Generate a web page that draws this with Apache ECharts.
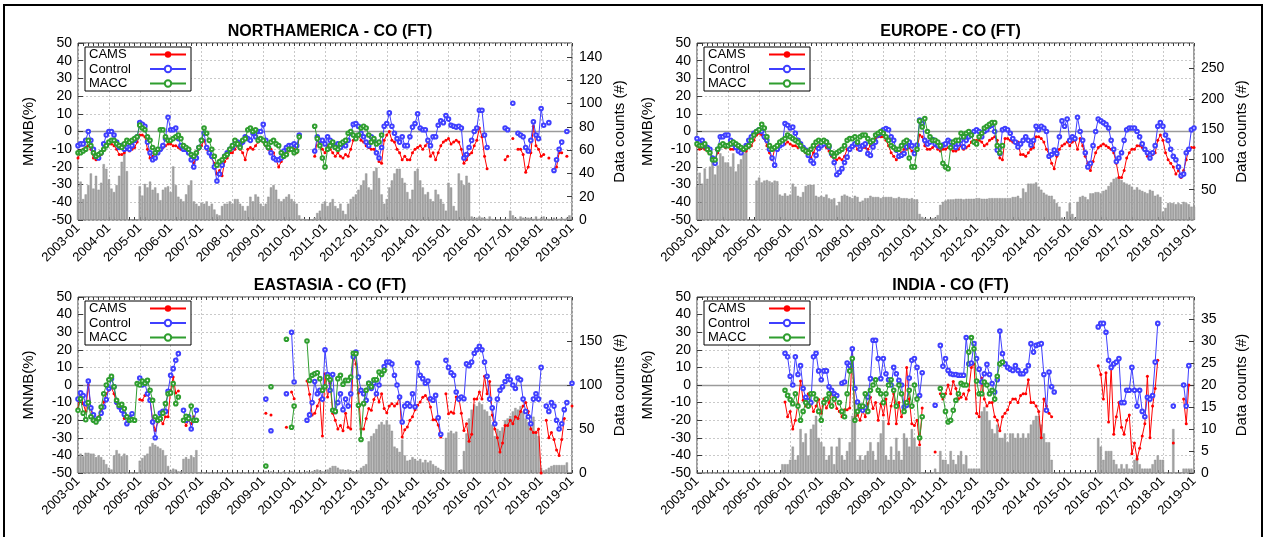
<!DOCTYPE html>
<html>
<head>
<meta charset="utf-8">
<script src="https://cdn.jsdelivr.net/npm/echarts@6/dist/echarts.min.js"></script>
<style>
html, body { margin: 0; padding: 0; background: #fff; }
#chart { width: 1266px; height: 537px; }
</style>
</head>
<body>
<div id="chart"></div>
<script>
const _ = null;
const FONT = '"Liberation Sans", Arial, Helvetica, sans-serif';

// Monthly categories, 2003-01 .. 2019-01
const months = [];
for (let y = 2003; y <= 2019; y++) {
  for (let m = 1; m <= 12; m++) {
    if (y === 2019 && m > 1) break;
    months.push(y + '-' + String(m).padStart(2, '0'));
  }
}
const seriesNames = ['CAMS', 'Control', 'MACC'];
const panelTitles = ['NORTHAMERICA - CO (FT)', 'EUROPE - CO (FT)', 'EASTASIA - CO (FT)', 'INDIA - CO (FT)'];

// ---------------- NORTH AMERICA ----------------
const naCams = [
  -15,-12,-10,-9,-8,-10,-15,-16,-15,-13,-10,-8,
  -7,-7,-8,-10,-13,-13,-12,-10,-11,-10,-9,-6,
  -2,-2,-3,-10,-15,-14,-12,-11,-10,-9,-8,-7,
  -7,-8,-8,-9,-10,-10,-10,-12,-15,-18,-14,-10,
  -8,-5,-10,-12,-15,-18,-24,-22,-25,-17,-15,-12,
  -12,-10,-8,-10,-12,-16,-10,-9,-10,-8,-6,-5,
  -6,-8,-10,-10,-12,-16,-20,-17,-14,-12,-11,-10,
  -10,-12,-3,_,_,_,_,_,-14,-5,-7,-10,
  -12,-8,-10,-12,-14,-12,-14,-15,-13,-14,-10,-5,
  -3,-2,-5,-6,-8,-9,-10,-10,-12,-17,-18,-5,
  -2,0,-5,-6,-10,-12,-16,-14,-16,-16,-12,-10,
  -9,-8,-10,-8,-6,-14,-12,-16,-12,-8,-6,-5,
  -4,-7,-6,-5,-6,-10,-18,-16,-13,-12,-8,-5,
  2,-3,-14,-21,_,_,_,_,_,_,-16,-14,
  _,-4,_,-10,-10,-13,-23,-20,-12,3,-8,-10,
  -14,-13,_,-15,_,-22,-20,-12,-12,_,-14,_,
  _
];
const naControl = [
  -8,-7,-7,-5,0,-5,-10,-14,-15,-12,-7,-2,
  0,0,-2,-6,-9,-8,-10,-7,-10,-8,-5,-3,
  5,4,3,-6,-12,-16,-15,-12,-10,-8,-4,8,
  1,1,2,-4,-8,-10,-10,-12,-16,-20,-15,-9,
  -5,-1,-9,-12,-14,-20,-28,-24,-19,-14,-12,-10,
  -9,-7,-6,-8,-6,-3,-4,-5,-1,-3,0,0,
  4,-5,-9,-12,-15,-16,-16,-15,-11,-9,-8,-8,
  -7,-8,-2,_,_,_,_,_,-11,-3,-5,-5,
  -7,-3,-5,-7,-9,-7,-9,-7,-8,-5,-1,4,
  4.5,3,-1,-3,-6,-8,-3,-5,-12,-15,-9,3,
  4.5,10.5,3,-1,-4,-6,-3,-8,-8,-3,2.5,4.5,
  10,2,1,1,-5,-8,-3,-3,3.5,6,5,9,
  7,3.5,3,2.5,3,2,-15,-13,-9,-5,0,2,
  12,12,-2,-9,_,_,_,_,_,_,2,1,
  _,16,_,-1,-2,-3,-9,-11,-5,5.5,-2,-4,
  13,3.5,_,5,_,-22,-16,-10,-6,_,0,_,
  _
];
const naMacc = [
  -12,-12,-11,-10,-5,-8,-12,-14,-13,-12,-10,-8,
  -6,-5,-5,-7,-8,-9,-7,-5,-6,-5,-4,-3,
  3.6,2,1,-3,-5,-9,-12,-10,1,1,-3,-5,
  -5,-4,-3,-2,-4,-8,-9,-10,-13,-14,-12,-9,
  -5,2,-1,-5,-10,-14,-19,-17,-16,-14,-13,-10,
  -8,-5,-7,-9,-5,-4,1,2,0,1,-5,-4,
  -5,-7,-9,-6,-5,-7,-8,-12,-14,-13,-10,-10,
  -12,-11,-3,_,_,_,_,_,3,-4,-8,-15,
  -20,-10,-8,-6,-9,-10,-7,-6,-5,-1,0,-2,
  -4,-2,2,3,2,-2,-6,-4,-7,-6,-2,_,
  _,_,_,_,_,_,_,_,_,_,_,_,
  _,_,_,_,_,_,_,_,_,_,_,_,
  _,_,_,_,_,_,_,_,_,_,_,_,
  _,_,_,_,_,_,_,_,_,_,_,_,
  _,_,_,_,_,_,_,_,_,_,_,_,
  _,_,_,_,_,_,_,_,_,_,_,_,
  _
];
const naCounts = [
  17,33,18,22,30,40,27,38,26,32,48,44,
  35,27,24,30,38,50,57,42,0,0,0,0,
  29,21,31,28,33,26,28,23,17,26,28,29,
  24,46,30,20,18,16,22,30,34,16,14,12,
  15,14,16,12,14,9,5,4,12,14,14,16,
  14,18,18,14,12,8,12,20,16,22,20,14,
  12,14,20,28,30,26,18,16,18,20,22,18,
  16,14,4,1,1,0,0,0,2,6,8,14,
  16,12,15,18,12,10,14,8,5,14,18,20,
  22,26,30,34,40,28,26,42,45,36,22,14,
  18,28,34,40,44,44,36,32,24,18,26,42,
  44,34,28,22,24,18,16,26,22,18,14,8,
  32,28,12,8,40,34,30,38,32,3,2,2,
  3,2,2,1,3,1,0,0,0,0,1,1,
  8,4,2,1,3,2,2,2,2,1,3,1,
  2,3,1,1,0,2,1,1,2,1,2,4,
  0
];

// ---------------- EUROPE ----------------
const euCams = [
  -8,-10,-9,-10,-11,-12,-15,-16,-12,-8,-8,-9,
  -8,-10,-10,-9,-10,-10,-11,-11,-9,-8,-5,-2,
  -1,-2,-4,-8,-12,-16,-10,-9,-8,-6,-7,-6,
  -7,-8,-8,-9,-8,-10,-12,-14,-15,-12,-9,-8,
  -8,-7,-9,-11,-14,-15,-16,-15,-16,-14,-10,-9,
  -9,-8,-10,-10,-9,-9,-10,-8,-6,-4,-3,-3,
  -3,-5,-8,-12,-14,-16,-14,-12,-10,-10,-9,-11,
  -13,-10,-2,-3,-8,-10,-10,-9,-8,-10,-11,-10,
  -10,-9,-10,-11,-11,-10,-8,-10,-9,-8,-6,-5,
  -5,-5,-6,-8,-7,-5,-4,-3,-5,-15,-16,-4,
  -4,-5,-6,-6,-6,-13,-13,-14,-12,-10,-9,-3,
  -3,-4,-6,-10,-13,-18,-21,-14,-10,-8,-7,-6,
  -8,-6,-5,-10,-4,-8,-14,-18,-22,-17,-12,-9,
  -8,-7,-8,-9,-10,-12,-18,-26,-26,-22,-15,-12,
  -10,-10,-8,-8,-9,-10,-14,-15,-13,-12,-5,-2,
  -5,-12,-16,-18,-20,-24,-22,-26,-22,-16,-10,-9,
  -9
];
const euControl = [
  -4,-6,-5,-8,-9,-10,-15,-18,-10,-3,-3,-2,
  -2,-5,-7,-9,-11,-12,-10,-8,-5,-3,-1,0,
  1,0,-3,-5,-10,-15,-19,-10,-8,-7,4.5,3.5,
  2,2.5,-1,-5,-7,-9,-10.5,-13.5,-16.5,-18,-13.5,-9.6,
  -8,-7,-6,-8.7,-12.5,-17.5,-24.4,-23,-21,-17.5,-14.5,-10,
  -8.3,-7,-7,-10,-8,-7,-12.5,-13.5,-8.7,-6,-2,-1,
  1,1.7,1,-3,-5,-10.5,-14,-13.4,-12.4,-8.7,-6,-8,
  -12.4,-7.7,6.4,4.5,-5,-7,-6,-4.5,-7,-8,-8.7,-7.7,
  -7,-5,-6,-8.3,-9,-7,-5,-8.7,-5,-3,-2,0,
  1,0,-3,0,1,3,3.5,0,-10.5,-12.4,1,1.7,
  1,-1,-4,-6,-8.7,-7,-5,-3,-5,-7.7,-5,3,
  1,3,2,0,-14,-13,-10.5,-12.4,-3,6,3,7,
  -5,-3,-4,8,0,-5,-12,-20,-18,-8,0,7,
  6,5,4,2,-5,-10,-17,-15,-12,-5,1,2,
  2,2,0,-3,-7,-10,-12,-15,-12,-8,3,5,
  3,-2,-5,-10,-14,-16,-20,-25,-24,-12,-10,1,
  2
];
const euMacc = [
  -7,-8,-8,-7,-10,-12,-16,-16,-10,-8,-7,-8,
  -8,-7,-6,-7,-8,-9,-10,-9,-8,-5,-2,0,
  1,4,2,-3,-8,-10,-9,-8,-6,-5,-4,-2,
  -3,-4,-5,-6,-8,-10,-11,-12,-10,-8,-6,-5,
  -6,-5,-6,-8,-12,-14,-12,-11,-10,-8,-5,-4,
  -4,-3,-6,-3,-2,-2,-4,-6,-5,-2,-1,0,
  -1,-3,-5,-8,-9,-10,-10,-8,-6,-5,-15,-20,
  -20,-10,6,2.6,7.3,0,-3,-5,-5,-6,-8,-18,
  -20,-21,-9,-6,-5,-5,-1,-3,-1,0,-2,-6,
  -7,-3,-1,2,3,4,5,5,-8,-12,-8,_,
  _,_,_,_,_,_,_,_,_,_,_,_,
  _,_,_,_,_,_,_,_,_,_,_,_,
  _,_,_,_,_,_,_,_,_,_,_,_,
  _,_,_,_,_,_,_,_,_,_,_,_,
  _,_,_,_,_,_,_,_,_,_,_,_,
  _,_,_,_,_,_,_,_,_,_,_,_,
  _
];
const euCounts = [
  55,78,60,85,68,88,96,75,90,110,105,95,
  95,88,110,80,92,100,110,120,0,0,0,65,
  70,62,65,66,64,62,65,64,42,40,44,40,
  42,60,55,40,38,46,56,58,58,58,40,38,
  40,38,42,36,34,36,24,30,40,42,40,38,
  36,40,38,30,32,36,36,40,38,38,38,36,
  38,38,38,38,36,36,38,36,36,36,35,36,
  34,34,10,5,3,2,2,3,4,8,25,30,
  32,34,34,34,35,35,35,34,35,35,35,35,
  36,36,35,35,35,36,36,36,36,36,36,36,
  36,36,38,38,40,36,52,46,60,60,60,62,
  55,50,45,42,40,40,34,28,22,4,2,14,
  28,10,4,30,38,40,38,34,44,44,46,46,
  44,48,50,56,62,68,70,72,66,62,60,58,
  55,50,54,50,48,46,44,50,48,40,42,38,
  14,20,28,28,28,26,28,26,30,28,26,22,
  22
];

// ---------------- EAST ASIA ----------------
const eaCams = [
  -13.4,-5,-10.6,-15,0,-13.4,-19,-19.7,-18,-14.4,-9.7,-5,
  -3,-1.5,-5,-10.6,-12.8,-15,-19,-18,-19,-16,_,_,
  -8.3,-8.7,-5.9,-5.5,-8,-20,-25.8,-21,-19.7,-22,-18,-18,
  -3,4.5,-4.5,-3.4,_,-20,-23,-20,-22,-18,-20,_,
  _,_,_,_,_,_,_,_,_,_,_,_,
  _,_,_,_,_,_,_,_,_,_,_,_,
  _,-16,_,-17,_,_,_,_,_,-24,_,-4,
  -7.8,_,_,_,_,2.3,-5.3,-17,-16,-12,-8.3,-29,
  6.4,-6.8,1,-16,-20,-25,-23,-26,-16,-24,-25,17,
  12,-4.5,-25,-25,-19,-13.4,-14.4,-8.3,-5,-9.7,-5,-13.4,
  -15.7,-12,-10.6,-12,-10.6,-6.8,-29.5,-25.4,-23.9,-20,-18,-14,
  -11.5,-9.7,-7,-5.9,-8,-12.5,-19.7,-19.7,-22.7,-29.5,_,-5,
  -16.3,-15.3,-16,-6.8,-7,-16,-25.8,-22,-32,-28,-8,-8,
  -4,-8,5,-5,2,-17,-25,-30,-38,-33,-23,-23,
  -20,-22,-18,-19,-15,-12,-10,-15,-25,-27,-27,-25,
  -50,_,-20,-30,-27,-31,-37,-40,-31,-19,_,_,
  -12
];
const eaControl = [
  -8,-4.5,-6,-10.6,2.3,-13,-17,-20,-19,-16,-12.5,-8.3,
  -2,3.6,-1,-9.7,-12.5,-14.4,-16.7,-22,-18.6,-16.3,_,_,
  4,0,1,-5,-8.7,-21,-30,-20,-16,-15,-15,-3.6,
  5.5,9.3,14,17.8,_,-14.4,-20,-18,-25,-20,-14.4,_,
  _,_,_,_,_,_,_,_,_,_,_,_,
  _,_,_,_,_,_,_,_,_,_,_,_,
  _,-8,_,-26,_,_,_,_,_,-5,_,30,
  1.7,_,_,_,_,-20,-17,-10,2,-5,-3,-8,
  20,6,-3,6,-15,-10,-5,-14,-8,-12,-5,16,
  18.7,4.5,-3,-5,-8.7,1,-2,1,-5,0,6.4,10.5,
  13,13,12,5.5,0,-6.8,-21,-12,-10.6,-12,-5,-12.4,
  12.5,5.5,3.6,1,2.3,-7.8,-8.7,-5.9,-18.6,-28,_,14,
  10,7,5.5,-4,-8,-6.8,-7.8,12,11,13,18,20,
  22,20,13,5,-8,-13,-22,-8,-3,-1,2,5,
  3,0,-2,4,3,-8,-15,-18,-22,-8,-5,-8,
  10,_,-12,-15,-10,-12,-20,-25,-22,-14,-10,_,
  1
];
const eaMacc = [
  -14.4,-7.8,-16,-19.7,-10,-18,-20,-21,-19,-12.5,-5,0,
  3,4.9,-1,-8.7,-11.5,-11,-13.4,-18,-20,-19.7,-20,0.8,
  0,2.3,1,2.6,-3,-8.7,-18,-20,-19,-16,-10.6,-5,
  -4.5,0.8,-10.6,-6.8,_,-20,-17.8,-19,-12,-20,-20,_,
  _,_,_,_,_,_,_,_,_,_,_,_,
  _,_,_,_,_,_,_,_,_,_,_,_,
  _,-46,_,-1,_,_,_,_,_,26,_,-24,
  -12,_,_,_,_,25,2.6,5.5,6.4,7,3.6,-3,
  -1,4.5,3,-14.4,-15,3.6,5.5,0.4,2.6,2.6,4.5,18,
  17.8,-11.5,-31,-10.6,-3,1,-1,3,3,7.4,6,8.3,
  _,_,_,_,_,_,_,_,_,_,_,_,
  _,_,_,_,_,_,_,_,_,_,_,_,
  _,_,_,_,_,_,_,_,_,_,_,_,
  _,_,_,_,_,_,_,_,_,_,_,_,
  _,_,_,_,_,_,_,_,_,_,_,_,
  _,_,_,_,_,_,_,_,_,_,_,_,
  _
];
const eaCounts = [
  18,22,19,23,23,22,22,18,20,18,15,10,
  6,4,20,26,22,19,22,20,0,0,0,0,
  14,17,20,22,30,34,32,30,28,26,20,8,
  3,5,4,2,2,16,18,16,20,18,26,0,
  1,0,0,0,0,0,0,0,0,0,0,0,
  0,0,0,0,0,0,0,0,0,0,1,0,
  0,2,1,2,1,1,0,1,2,1,1,2,
  1,1,0,1,1,2,1,2,3,4,3,2,
  2,4,6,8,8,6,4,4,3,4,3,2,
  2,3,6,8,10,36,42,45,50,55,58,55,
  60,55,48,30,28,24,38,20,14,15,18,16,
  14,16,12,15,12,14,10,8,6,4,3,40,
  46,48,45,47,3,4,25,45,62,72,78,76,
  80,78,72,70,65,55,42,50,48,52,60,62,
  65,70,74,72,76,70,62,58,52,64,48,42,
  6,3,4,6,8,9,9,9,9,9,12,0,
  0
];

// ---------------- INDIA ----------------
const inCams = [
  _,_,_,_,_,_,_,_,_,_,_,_,
  _,_,_,_,_,_,_,_,_,_,_,_,
  _,_,_,_,_,_,_,_,_,_,-9.7,-18,
  -15,-25,-20,-10.6,2.3,-8.7,-12,-5,-10,-15,-12,-8.3,
  -16,-8,-13,-10,-5,-8,-13.4,-15,-18,-14,-14,-13,
  20.6,-19,-17,-20,-14.8,-18,-10.6,-7,-13.4,-10,-20,-10.6,
  -17,-8,-22,-12,-5,-22,-10,-18,-14,10,-8,-22,
  -23,-20,-34,-13,_,_,_,_,-38,_,-5,-8,
  -5,0,-5,2,-2,-8,-7,-5,-8,-3,10,12,
  -16,-18,4,-8,-12,-10,-10,-18,-20,-26,-18,-16,
  -14,-10,-8,-8,-10,-6,-5,-5,3,-10,-10,-12,
  -15,-30,-8,-12,-16,-18,_,_,_,_,_,_,
  _,_,_,_,_,_,_,_,_,_,_,11,
  6,-8,7,-21,10,-28,-18,-10,-24,-28,-20,-17,
  -39,-33,-42,-36,-29,-22,5,-30,-12,-2,14,_,
  _,_,_,_,-33,_,_,_,-8,-22,0,_,
  _
];
const inControl = [
  _,_,_,_,_,_,_,_,_,_,_,_,
  _,_,_,_,_,_,_,_,_,_,_,_,
  _,_,_,_,_,_,_,_,_,_,18,16,
  5,0,16,6,11,-2,-7,-9,-10,16,18,8,
  3,8,8,-1,-3,-5,-6,_,1,1.7,12.5,11,
  20.6,-2,-9.7,-13.4,-14.4,-12.9,-6.8,3.6,25.4,25.4,15,3.6,
  15,6.4,3,0,10,6.4,2.6,0,-12.5,-11.5,4,14,
  15,10,-6,7,_,_,_,_,-11.5,_,22.5,10.6,
  15,8.3,6.4,6,6,5.5,5.5,5.5,27,12,12.5,23.5,
  15,9,1.7,6.4,11.7,6,0.8,-4,3,30.7,17.8,12,
  10,9,8.3,11,8.3,6.4,6.4,8,11,23.5,18.7,22.5,
  23,23.5,6,-14.4,7.4,-1,-4,_,_,_,_,_,
  _,_,_,_,_,_,_,_,_,_,_,33,
  35,35,30,14,10,12,13,15,-10,-10,-3,-3,
  10,-3,-12,-3,-15,-18,-7,-8,-6,13,35,_,
  _,_,_,_,-12,_,_,_,0,-12,11,_,
  _
];
const inMacc = [
  _,_,_,_,_,_,_,_,_,_,_,_,
  _,_,_,_,_,_,_,_,_,_,_,_,
  _,_,_,_,_,_,_,_,_,_,-3,-5.9,
  -8.3,-10.6,-5,-12,-20,-15,-10,-12,-5,-5,-8,-15,
  -20,-10,-8,-5,-12,-8,_,-10,-15,-18,-5,8,
  15,-20,-15,-12,-12,-5,-15,-3,0,3,-3,-5,
  -10,-5,0,3,-3,-12,0,-5,-15,-10,-3,-12,
  0,-8,-30,-18,_,_,_,_,_,_,-2,-6,
  -15,-21,-20,-14.4,-8.7,-5,1,0,0,18.7,27,20.6,
  2.3,-5,-5,1.7,0,-5,-3,-8,5,12,13,_,
  _,_,_,_,_,_,_,_,_,_,_,_,
  _,_,_,_,_,_,_,_,_,_,_,_,
  _,_,_,_,_,_,_,_,_,_,_,_,
  _,_,_,_,_,_,_,_,_,_,_,_,
  _,_,_,_,_,_,_,_,_,_,_,_,
  _,_,_,_,_,_,_,_,_,_,_,_,
  _
];
const inCounts = [
  0,0,0,0,0,0,0,0,0,0,0,0,
  0,0,0,0,0,0,0,0,0,0,0,0,
  0,0,0,0,0,0,0,0,0,2,2,2,
  3,6,3,4,10,7,9,4,10,11,13,8,
  7,6,3,4,6,2,6,8,4,3,5,7,
  13,16,3,4,3,4,5,7,5,3,7,9,
  12,4,3,6,3,8,5,3,9,8,6,10,
  8,6,6,0,0,0,0,0,1,0,5,3,
  3,2,5,3,2,4,5,2,4,1,1,1,
  1,1,14,15,14,12,10,9,11,8,8,9,
  7,9,9,8,9,8,9,8,9,11,12,13,
  13,11,9,7,7,3,0,0,0,0,0,0,
  0,0,0,0,0,0,0,0,0,0,0,8,
  6,3,5,5,5,3,2,1,2,1,2,1,
  1,3,4,2,1,1,1,1,2,3,4,3,
  3,0,0,0,10,0,0,0,1,1,1,1,
  0
];

// Right-hand count axis ranges per region
const countAxis = [
  { max: 152, step: 20, hideZero: false },
  { max: 292, step: 50, hideZero: true },
  { max: 200, step: 50, hideZero: false },
  { max: 40,  step: 5,  hideZero: false }
];

const panels = [
  { grid: { left: 78,  top: 43,  width: 494, height: 177 }, lines: [naCams, naControl, naMacc], counts: naCounts },
  { grid: { left: 697, top: 43,  width: 497, height: 177 }, lines: [euCams, euControl, euMacc], counts: euCounts },
  { grid: { left: 78,  top: 297, width: 494, height: 176 }, lines: [eaCams, eaControl, eaMacc], counts: eaCounts },
  { grid: { left: 697, top: 297, width: 497, height: 176 }, lines: [inCams, inControl, inMacc], counts: inCounts }
];

const lineColors = ['#ff0000', '#3f3fff', '#2f9e2f'];
const GRID_LINE = { color: '#c9c9c9', type: [2, 2], width: 1 };
const FRAME = '#3a3a3a';

const option = {
  animation: false,
  backgroundColor: '#ffffff',
  textStyle: { fontFamily: FONT },
  title: [], grid: [], xAxis: [], yAxis: [], legend: [], series: [],
  graphic: [{
    type: 'rect', silent: true,
    shape: { x: 4, y: 5, width: 1258, height: 545 },
    style: { fill: 'none', stroke: '#000', lineWidth: 2 }
  }]
};

panels.forEach((p, i) => {
  const g = p.grid;
  const ax = countAxis[i];
  const xBase = 3 * i;      // three x axes per panel
  const yLeft = 2 * i, yRight = 2 * i + 1;

  option.title.push({
    text: panelTitles[i],
    left: g.left + g.width / 2,
    top: g.top - 24,
    textAlign: 'center',
    textStyle: { fontSize: 16, fontWeight: 'bold', color: '#000', fontFamily: FONT }
  });

  option.grid.push({
    left: g.left, top: g.top, width: g.width, height: g.height,
    show: true, borderColor: FRAME, borderWidth: 1, backgroundColor: 'transparent'
  });

  // bottom time axis with yearly labels and grid lines
  option.xAxis.push({
    type: 'category', gridIndex: i, data: months, boundaryGap: false,
    axisLine: { show: false, onZero: false },
    axisTick: { show: true, inside: true, interval: 1, length: 3, lineStyle: { color: FRAME } },
    axisLabel: { interval: 11, rotate: 45, fontSize: 13, color: '#000', margin: 6, fontFamily: FONT },
    splitLine: { show: true, interval: 11, lineStyle: GRID_LINE }
  });
  // mirrored minor ticks along the top border
  option.xAxis.push({
    type: 'category', gridIndex: i, data: months, boundaryGap: false, position: 'top',
    axisLine: { show: false, onZero: false },
    axisTick: { show: true, inside: true, interval: 1, length: 3, lineStyle: { color: FRAME } },
    axisLabel: { show: false }, splitLine: { show: false }
  });
  // zero reference line of the MNMB scale
  option.xAxis.push({
    type: 'category', gridIndex: i, data: months, boundaryGap: false, position: 'bottom',
    axisLine: { show: true, onZero: true, onZeroAxisIndex: yLeft, lineStyle: { color: '#9a9a9a', width: 1.3 } },
    axisTick: { show: false }, axisLabel: { show: false }, splitLine: { show: false }
  });

  option.yAxis.push({
    type: 'value', gridIndex: i, position: 'left', min: -50, max: 50, interval: 10,
    name: 'MNMB(%)', nameLocation: 'middle', nameGap: 42, nameRotate: 90,
    nameTextStyle: { fontSize: 15, color: '#000', fontFamily: FONT },
    axisLine: { show: false, onZero: false },
    axisTick: { show: true, inside: true, length: 5, lineStyle: { color: FRAME } },
    axisLabel: { fontSize: 14, color: '#000', margin: 6, fontFamily: FONT },
    splitLine: { show: true, lineStyle: GRID_LINE }
  });
  option.yAxis.push({
    type: 'value', gridIndex: i, position: 'right', min: 0, max: ax.max, interval: ax.step,
    name: 'Data counts (#)', nameLocation: 'middle', nameGap: 40, nameRotate: 90,
    nameTextStyle: { fontSize: 15, color: '#000', fontFamily: FONT },
    axisLine: { show: false, onZero: false },
    axisTick: { show: true, inside: true, length: 5, lineStyle: { color: FRAME } },
    axisLabel: { fontSize: 14, color: '#000', margin: 7, fontFamily: FONT,
                 showMaxLabel: false, showMinLabel: !ax.hideZero },
    splitLine: { show: false }
  });

  option.legend.push({
    data: seriesNames,
    left: g.left + 7, top: g.top + 4,
    orient: 'vertical', align: 'right',
    itemWidth: 36, itemHeight: 8, itemGap: 1.5,
    padding: [1, 4, 1, 4],
    borderColor: '#000', borderWidth: 1, backgroundColor: '#fff',
    selectedMode: false,
    formatter: name => '{t|' + name + '}',
    textStyle: {
      fontSize: 13, lineHeight: 11, color: '#000', fontFamily: FONT,
      rich: { t: { width: 56, height: 11, align: 'left', fontSize: 13, lineHeight: 11, fontFamily: FONT, color: '#000' } }
    }
  });

  // data counts
  option.series.push({
    type: 'bar', name: 'Data counts', xAxisIndex: xBase, yAxisIndex: yRight,
    data: p.counts, barCategoryGap: '12%', clip: true, z: 1, silent: true,
    itemStyle: { color: '#a3a3a3', borderColor: '#8a8a8a', borderWidth: 0.4 }
  });

  seriesNames.forEach((name, k) => {
    const s = {
      type: 'line', name: name, xAxisIndex: xBase, yAxisIndex: yLeft,
      data: p.lines[k], connectNulls: false, showAllSymbol: true, clip: true,
      z: 3 + k, silent: true,
      lineStyle: { color: lineColors[k], width: 1 }
    };
    if (k === 0) {
      s.symbol = 'circle'; s.symbolSize = 3;
      s.itemStyle = { color: lineColors[k] };
    } else {
      s.symbol = 'emptyCircle'; s.symbolSize = 3.6;
      s.itemStyle = { color: lineColors[k], borderColor: lineColors[k], borderWidth: 0.8 };
    }
    option.series.push(s);
  });
});

const chart = echarts.init(document.getElementById('chart'), null, { renderer: 'canvas' });
chart.setOption(option);
</script>
</body>
</html>
